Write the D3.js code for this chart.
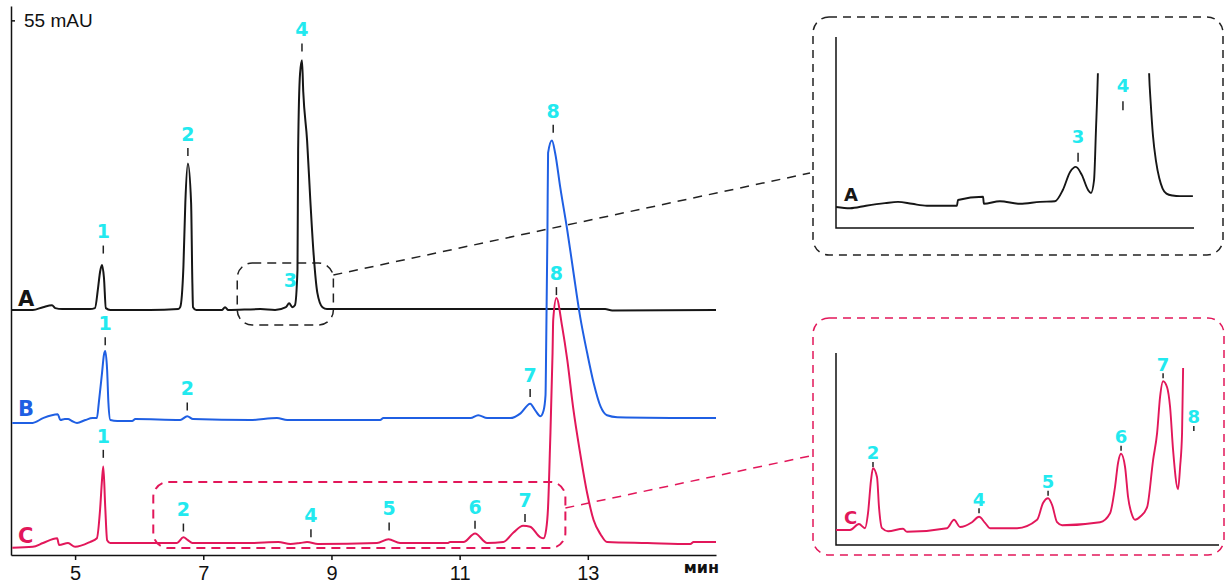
<!DOCTYPE html>
<html>
<head>
<meta charset="utf-8">
<script src="https://cdn.jsdelivr.net/npm/d3@7"></script>
<style>
  html, body { margin: 0; padding: 0; background: #fff; }
  svg { display: block; }
  text { font-family: "Liberation Sans", Arial, sans-serif; }
  .bold { font-family: "DejaVu Sans", sans-serif; font-weight: bold; }
</style>
</head>
<body>
<svg id="chart" width="1225" height="586"></svg>
<script>
// chromatograms: [time (min), mAU above own baseline]
const TRACE_A = [
  [4.00, 0], [4.34, 0], [4.50, 0.3], [4.64, 0.5], [4.69, 0.2], [4.80, 0.1],
  [5.23, 0.1], [5.31, 0.2], [5.36, 2.4], [5.39, 4.0], [5.42, 4.7], [5.45, 3.4],
  [5.48, 0.2], [5.55, 0], [6.17, 0], [6.61, 0.1], [6.64, 0.3], [6.69, 4.5],
  [6.72, 11.2], [6.76, 15.3], [6.81, 11.2], [6.83, 2.8], [6.84, 0.3], [6.89, 0],
  [7.29, 0], [7.34, 0.3], [7.39, 0], [7.89, 0.1], [8.12, 0], [8.29, 0.3],
  [8.34, 0.7], [8.39, 0.3], [8.43, 0.5], [8.47, 4.2], [8.48, 16.7], [8.51, 24.7],
  [8.54, 26.1], [8.56, 22.8], [8.62, 17.7], [8.67, 11.5], [8.72, 6.0], [8.78, 1.8],
  [8.86, 0.3], [8.93, 0.1], [10.07, 0.1], [13.27, 0.1], [13.38, -0.05], [15.0, 0]
];
const TRACE_B = [
  [4.02, -0.3], [4.34, -0.3], [4.50, 0.2], [4.73, 0.6], [4.77, 0], [4.84, 0.1],
  [4.89, 0.1], [4.95, -0.1], [5.03, -0.3], [5.16, 0], [5.27, 0.2], [5.34, 0.2],
  [5.37, 1.8], [5.42, 4.9], [5.45, 6.8], [5.47, 7.2], [5.50, 5.2], [5.52, 1.8],
  [5.55, 0], [5.66, -0.1], [5.89, -0.1], [5.94, 0.1], [6.64, 0], [6.75, 0.4],
  [6.84, 0.1], [7.73, 0], [8.15, 0.2], [8.31, 0], [9.76, 0], [9.81, 0.2],
  [11.17, 0.2], [11.29, 0.5], [11.43, 0.2], [11.79, 0.2], [11.95, 0.7], [12.10, 1.7],
  [12.18, 1.0], [12.26, 0.4], [12.31, 1.0], [12.34, 2.6], [12.35, 7.6], [12.37, 19.8],
  [12.38, 27.9], [12.44, 29.2], [12.49, 27.9], [12.57, 24.3], [12.68, 19.8], [12.77, 15.7],
  [12.88, 10.8], [12.99, 7.0], [13.09, 3.9], [13.20, 1.4], [13.30, 0.5], [13.46, 0.3],
  [15.0, 0.2]
];
const TRACE_C = [
  [4.02, -0.1], [4.34, 0], [4.50, 0.4], [4.72, 0.9], [4.75, 0.2], [4.89, 0.4],
  [5.00, 0], [5.23, 0.5], [5.34, 0.9], [5.39, 3.9], [5.42, 7.0], [5.44, 8.4],
  [5.47, 4.2], [5.50, 0.7], [5.55, 0.4], [5.86, 0.4], [6.59, 0.4], [6.69, 1.0],
  [6.76, 0.7], [6.83, 0.4], [7.73, 0.4], [8.17, 0.5], [8.36, 0.3], [8.51, 0.4],
  [8.62, 0.5], [8.79, 0.3], [9.71, 0.4], [9.89, 0.8], [10.07, 0.4], [10.81, 0.4],
  [10.85, 0.5], [11.06, 0.5], [11.24, 1.4], [11.43, 0.4], [11.68, 0.5], [11.84, 1.5],
  [11.99, 2.2], [12.10, 2.1], [12.26, 1.0], [12.31, 0.9], [12.35, 1.8], [12.38, 4.2],
  [12.41, 10.4], [12.45, 20.3], [12.46, 23.7], [12.51, 26.0], [12.60, 23.0], [12.68, 19.5],
  [12.77, 14.6], [12.88, 9.8], [12.99, 5.6], [13.09, 2.8], [13.20, 1.3], [13.30, 0.5],
  [13.93, 0.4], [14.60, 0.3], [14.65, 0.5], [15.0, 0.5]
];

const TRACE_NAMES   = ["A", "B", "C"];
const TRACE_COLORS  = ["#161616", "#1f5fe3", "#e2175a"];
const TRACE_OFFSETS = [24.74, 13.25, 0];

// peak labels: [name, time, mAU where the tick ends, tick?]
const PEAKS_A = [["1", 5.44, 5.9, true], ["2", 6.76, 16.1, true], ["3", 8.36, 0.8, false], ["4", 8.54, 27.0, true]];
const PEAKS_B = [["1", 5.47, 7.8, true], ["2", 6.75, 1.0, true], ["7", 12.10, 2.4, true], ["8", 12.46, 30.0, true]];
const PEAKS_C = [["1", 5.44, 9.3, true], ["2", 6.69, 1.6, true], ["4", 8.68, 1.0, true], ["5", 9.90, 1.7, true],
                 ["6", 11.24, 1.9, true], ["7", 12.02, 2.6, true], ["8", 12.51, 26.3, true]];

// zoomed traces
const INSET_A_TRACE = [
  [7.490, 0.33], [7.541, 0.31], [7.599, 0.35], [7.668, 0.39], [7.715, 0.41], [7.766, 0.38],
  [7.820, 0.35], [7.929, 0.35], [7.933, 0.44], [8.024, 0.49], [8.027, 0.38], [8.085, 0.42],
  [8.158, 0.38], [8.231, 0.41], [8.285, 0.42], [8.314, 0.60], [8.340, 0.88], [8.361, 0.96],
  [8.383, 0.83], [8.405, 0.60], [8.416, 0.55], [8.427, 0.75], [8.434, 1.54], [8.441, 2.43],
  [8.47, 12], [8.53, 28], [8.60, 12],
  [8.627, 2.43], [8.633, 1.95], [8.641, 1.45], [8.652, 1.05], [8.664, 0.78], [8.676, 0.62],
  [8.690, 0.54], [8.712, 0.51], [8.739, 0.50], [8.786, 0.50]
];
const INSET_C_TRACE = [
  [6.000, 0.25], [6.256, 0.25], [6.420, 0.35], [6.530, 0.28], [6.585, 0.53], [6.640, 1.08],
  [6.676, 1.28], [6.750, 1.13], [6.786, 0.63], [6.841, 0.28], [6.951, 0.23], [7.225, 0.27],
  [7.298, 0.22], [8.029, 0.28], [8.157, 0.42], [8.267, 0.30], [8.486, 0.38], [8.614, 0.47],
  [8.724, 0.37], [8.815, 0.28], [9.309, 0.28], [9.675, 0.42], [9.784, 0.70], [9.876, 0.78],
  [9.949, 0.67], [10.040, 0.38], [10.132, 0.33], [10.826, 0.38], [11.009, 0.53], [11.100, 0.97],
  [11.155, 1.37], [11.210, 1.52], [11.283, 1.30], [11.338, 0.80], [11.411, 0.50], [11.466, 0.42],
  [11.558, 0.47], [11.686, 0.63], [11.796, 1.42], [11.869, 1.87], [11.923, 2.47], [11.978, 2.73],
  [12.051, 2.63], [12.106, 2.30], [12.161, 1.58], [12.252, 0.93], [12.289, 1.30], [12.325, 1.87],
  [12.344, 2.95]
];
const INSET_A_PEAKS = [["3", 8.369, 1.04], ["4", 8.532, 1.85]];
const INSET_C_PEAKS = [["2", 6.676, 1.30], ["4", 8.614, 0.53], ["5", 9.876, 0.82],
                       ["6", 11.21, 1.57], ["7", 11.978, 2.78], ["8", 12.54, 1.90]];

const X_TICKS = [5, 7, 9, 11, 13];
const Y_TICKS = [55];

const PEAK_COLOR = "#22e9ef";

const svg = d3.select("#chart");

// skala utama
const x = d3.scaleLinear().domain([4, 15]).range([11, 716]);
const y = d3.scaleLinear().domain([-0.85, 56.5]).range([555, 6]);

// sumbu x
const xAxis = svg.append("g")
  .attr("transform", `translate(0,${y.range()[0]})`)
  .call(d3.axisBottom(x).tickValues(X_TICKS).tickSize(5).tickSizeOuter(0).tickPadding(6))
  .attr("font-size", 20)
  .attr("font-family", "DejaVu Sans, sans-serif");
xAxis.select(".domain").attr("stroke", "#111").attr("stroke-width", 1.5);
xAxis.selectAll(".tick line").attr("stroke", "#111").attr("stroke-width", 1.5);
xAxis.selectAll(".tick text").attr("fill", "#111");

svg.append("text")
  .attr("class", "bold")
  .attr("x", 719).attr("y", 573)
  .attr("text-anchor", "end")
  .attr("font-size", 16)
  .attr("fill", "#111")
  .text("мин");

// sumbu y
const yAxis = svg.append("g")
  .attr("transform", `translate(${x.range()[0]},0)`)
  .call(d3.axisRight(y).tickValues(Y_TICKS).tickSize(4).tickSizeOuter(0).tickPadding(9)
    .tickFormat(d => `${d} mAU`))
  .attr("font-size", 19)
  .attr("font-family", "Liberation Sans, Arial, sans-serif");
yAxis.select(".domain").attr("stroke", "#111").attr("stroke-width", 1.5);
yAxis.selectAll(".tick line").attr("stroke", "#111").attr("stroke-width", 1.5);
yAxis.selectAll(".tick text").attr("fill", "#111");

// kotak zoom di grafik utama
const BOX_A = { t: [7.53, 9.03], v: [23.18, 29.65] };
const BOX_C = { t: [6.22, 12.65], v: [-0.12, 6.78] };

function drawBox(b, color, w) {
  svg.append("rect")
    .attr("x", x(b.t[0])).attr("y", y(b.v[1]))
    .attr("width", x(b.t[1]) - x(b.t[0]))
    .attr("height", y(b.v[0]) - y(b.v[1]))
    .attr("rx", 15)
    .attr("fill", "none")
    .attr("stroke", color).attr("stroke-width", w)
    .attr("stroke-dasharray", "9,6");
}
drawBox(BOX_A, "#222", 1.5);
drawBox(BOX_C, TRACE_COLORS[2], 2);

// kromatogram
const traces = [TRACE_A, TRACE_B, TRACE_C];
traces.forEach((data, i) => {
  const off = TRACE_OFFSETS[i];
  const line = d3.line()
    .x(d => x(d[0]))
    .y(d => y(d[1] + off))
    .curve(d3.curveMonotoneX);
  svg.append("path")
    .datum(data)
    .attr("d", line)
    .attr("fill", "none")
    .attr("stroke", TRACE_COLORS[i])
    .attr("stroke-width", 2)
    .attr("stroke-linejoin", "round");

  svg.append("text")
    .attr("class", "bold")
    .attr("x", x(4) + 7)
    .attr("y", y(off) - 4)
    .attr("font-size", 21)
    .attr("fill", TRACE_COLORS[i])
    .text(TRACE_NAMES[i]);
});

// label puncak
function drawPeaks(list, xs, ys, off, dashLen, textGap, fontSize) {
  list.forEach(p => {
    const px = xs(p[1]);
    const py = ys(p[2] + off);
    if (p[3] !== false) {
      svg.append("line")
        .attr("x1", px).attr("x2", px)
        .attr("y1", py - dashLen).attr("y2", py)
        .attr("stroke", "#222").attr("stroke-width", 1.5);
    }
    svg.append("text")
      .attr("class", "bold")
      .attr("x", px)
      .attr("y", py - dashLen - textGap)
      .attr("dy", "0.36em")
      .attr("text-anchor", "middle")
      .attr("font-size", fontSize)
      .attr("fill", PEAK_COLOR)
      .text(p[0]);
  });
}
drawPeaks(PEAKS_A, x, y, TRACE_OFFSETS[0], 8, 14, 19);
drawPeaks(PEAKS_B, x, y, TRACE_OFFSETS[1], 8, 14, 19);
drawPeaks(PEAKS_C, x, y, TRACE_OFFSETS[2], 8, 14, 19);

// inset
const FRAME_A = { x: 813, y: 17, w: 410, h: 238 };
const FRAME_C = { x: 813, y: 318, w: 411, h: 237 };

const xA = d3.scaleLinear().domain([7.49, 8.79]).range([836, 1194]);
const yA = d3.scaleLinear().domain([0, 3]).range([228, 37]);
const xC = d3.scaleLinear().domain([6, 13]).range([836, 1219]);
const yC = d3.scaleLinear().domain([0, 3.2]).range([545, 353]);

function drawInset(frame, xs, ys, data, color, frameColor, name, peaks, dashLen, textGap, clipTop) {
  svg.append("rect")
    .attr("x", frame.x).attr("y", frame.y)
    .attr("width", frame.w).attr("height", frame.h)
    .attr("rx", 16)
    .attr("fill", "none")
    .attr("stroke", frameColor).attr("stroke-width", 1.5)
    .attr("stroke-dasharray", "8,6");

  // sumbu L
  svg.append("path")
    .attr("d", `M${xs.range()[0]},${ys.range()[1]}V${ys.range()[0]}H${xs.range()[1]}`)
    .attr("fill", "none")
    .attr("stroke", "#111").attr("stroke-width", 1.5);

  const clipId = "clip-" + name;
  const top = clipTop == null ? ys.range()[1] : ys(clipTop);
  svg.append("clipPath").attr("id", clipId)
    .append("rect")
    .attr("x", xs.range()[0]).attr("y", top)
    .attr("width", xs.range()[1] - xs.range()[0])
    .attr("height", ys.range()[0] - top);

  svg.append("path")
    .datum(data)
    .attr("clip-path", `url(#${clipId})`)
    .attr("d", d3.line().x(d => xs(d[0])).y(d => ys(d[1])).curve(d3.curveMonotoneX))
    .attr("fill", "none")
    .attr("stroke", color).attr("stroke-width", 1.9)
    .attr("stroke-linejoin", "round");

  svg.append("text")
    .attr("class", "bold")
    .attr("x", xs.range()[0] + 8)
    .attr("y", ys(data[0][1]) - 6)
    .attr("font-size", 18)
    .attr("fill", color)
    .text(name);

  drawPeaks(peaks, xs, ys, 0, dashLen, textGap, 18);
}

drawInset(FRAME_A, xA, yA, INSET_A_TRACE, TRACE_COLORS[0], "#222", "A", INSET_A_PEAKS, 9, 16, 2.43);
drawInset(FRAME_C, xC, yC, INSET_C_TRACE, TRACE_COLORS[2], TRACE_COLORS[2], "C", INSET_C_PEAKS, 5, 9, null);

// garis penghubung
svg.append("line")
  .attr("x1", x(BOX_A.t[1])).attr("y1", y(28.4))
  .attr("x2", FRAME_A.x - 3).attr("y2", 173)
  .attr("stroke", "#222").attr("stroke-width", 1.5)
  .attr("stroke-dasharray", "9,7");
svg.append("line")
  .attr("x1", x(BOX_C.t[1])).attr("y1", y(4.06))
  .attr("x2", FRAME_C.x - 3).attr("y2", 456)
  .attr("stroke", TRACE_COLORS[2]).attr("stroke-width", 1.5)
  .attr("stroke-dasharray", "9,7");
</script>
</body>
</html>
